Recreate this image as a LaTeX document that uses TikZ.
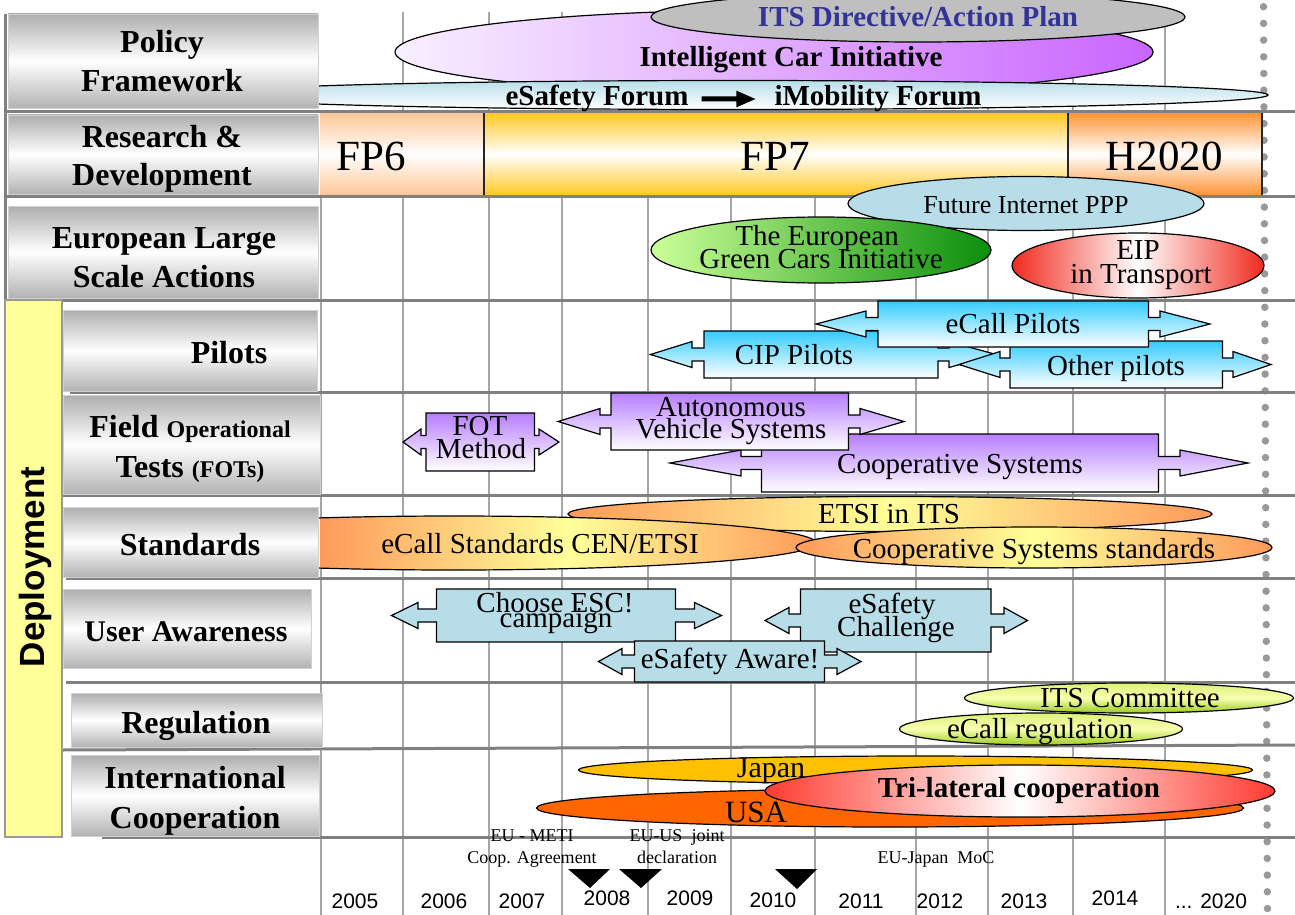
\documentclass[tikz,border=0pt]{standalone}
\usepackage{fontspec}
\setmainfont{Liberation Serif}
\newfontfamily\arialfam{Liberation Sans}
\usetikzlibrary{arrows.meta}
\newcommand{\tsize}[2]{\fontsize{#1}{#2}\selectfont}

\definecolor{paleteal}{HTML}{B7DEE8}
\definecolor{itsgray}{HTML}{BFBFBF}
\definecolor{itsblue}{HTML}{333399}
\definecolor{icilight}{HTML}{F8F0FF}
\definecolor{icipurple}{HTML}{C966FF}
\definecolor{fppeach}{HTML}{FFC797}
\definecolor{fpyellow}{HTML}{FFC926}
\definecolor{fporange}{HTML}{FF963A}
\definecolor{greenlight}{HTML}{CCFF99}
\definecolor{greendark}{HTML}{0A8F0A}
\definecolor{eipred}{HTML}{F02A1E}
\definecolor{pilotblue}{HTML}{33CCFF}
\definecolor{fotpurple}{HTML}{B77EFF}
\definecolor{stdorange}{HTML}{FF9A5A}
\definecolor{stdyellow}{HTML}{FFFF99}
\definecolor{regtop}{HTML}{DCF075}
\definecolor{regmid}{HTML}{F8FFB0}
\definecolor{regbot}{HTML}{9CCB1E}
\definecolor{japanorange}{HTML}{FFC000}
\definecolor{usaorange}{HTML}{FF6600}
\definecolor{trired}{HTML}{FF3B30}
\definecolor{deployyellow}{HTML}{FFFF99}

\tikzset{
  gridline/.style={draw=black!35, line width=1.3pt},
  rowline/.style={draw=black!50, line width=3pt},
  dotline/.style={draw=black!40, line width=7.5pt, line cap=round, dash pattern=on 0pt off 16.7pt},
  labelbox/.style={draw=black!18, line width=0.8pt, top color=black!32, bottom color=black!30, middle color=white},
  rim/.style={draw=black, line width=1.2pt},
  lbl/.style={font=\bfseries\tsize{32}{32}, anchor=base, inner sep=0pt},
  txt/.style={font=\tsize{29}{29}, anchor=base, inner sep=0pt},
  boldtxt/.style={font=\bfseries\tsize{29}{29}, anchor=base, inner sep=0pt},
  year/.style={font=\arialfam\tsize{21}{21}, anchor=base, inner sep=0pt},
  note/.style={font=\tsize{18}{18}, anchor=base, inner sep=0pt},
  fwd/.style={line width=5pt, -{Triangle[length=20pt,width=15pt]}, shorten <=13pt, shorten >=18pt},
  pilotfill/.style={rim, top color=pilotblue, bottom color=white},
  fotfill/.style={rim, top color=fotpurple, bottom color=white},
  awarefill/.style={rim, fill=paleteal},
  stdshade/.style={left color=stdorange, right color=stdorange, middle color=stdyellow},
  stdfill/.style={rim, stdshade},
  regfill/.style={rim, top color=regtop, bottom color=regbot, middle color=regmid}
}

% double arrow box: style, left tip, left neck, body left, body right, right neck, right tip, top, bottom
\def\shafthw{6.5}
\def\headhw{13}
\newcommand{\lrarrowbox}[9]{%
  \pgfmathsetmacro{\cmid}{(#8+#9)/2}%
  \path[#1] (#4,#8) -- (#5,#8) -- (#5,\cmid-\shafthw) -- (#6,\cmid-\shafthw) -- (#6,\cmid-\headhw)
    -- (#7,\cmid) -- (#6,\cmid+\headhw) -- (#6,\cmid+\shafthw) -- (#5,\cmid+\shafthw) -- (#5,#9)
    -- (#4,#9) -- (#4,\cmid+\shafthw) -- (#3,\cmid+\shafthw) -- (#3,\cmid+\headhw) -- (#2,\cmid)
    -- (#3,\cmid-\headhw) -- (#3,\cmid-\shafthw) -- (#4,\cmid-\shafthw) -- cycle;}

\begin{document}
\begin{tikzpicture}[x=1pt,y=-1pt]
	\useasboundingbox (0,0) rectangle (1295,915);
	%%%%% GRID %%%%%
	\foreach \gx in {403,489,562,648,731,815,916,988,1073,1165}
		\draw[gridline] (\gx,12) -- (\gx,915);
	\draw[gridline] (321,112) -- (321,915);
	\draw[dotline] (1263.5,6.7) -- (1267.5,915);
	
	\draw[rowline] (5,14) -- (5,300);
	\draw[rowline] (5,112) -- (1295,112);
	\draw[rowline] (5,196) -- (1295,196);
	\draw[rowline] (5,300) -- (1295,300);
	\draw[rowline] (70,392.5) -- (1295,392.5);
	\draw[rowline] (63,495.5) -- (1295,495.5);
	\draw[rowline] (66,578.5) -- (1295,578.5);
	\draw[rowline] (66,682.5) -- (1295,682.5);
	\draw[rowline] (62,750) -- (1295,745);
	\draw[rowline] (102,837) -- (1295,837);
	
	%%%%% POLICY FRAMEWORK %%%%%
	\path[rim, left color=icilight, right color=icipurple] (774,52) ellipse [x radius=379, y radius=42];
	\path[rim, fill=itsgray] (918,17) ellipse [x radius=267, y radius=25];
	\path[rim, top color=paleteal, bottom color=white] (735,95) ellipse [x radius=533, y radius=14.5];
	
	%%%%% RESEARCH %%%%%
	\path[top color=fppeach, bottom color=fppeach, middle color=white] (320,113.5) rectangle (484,194.5);
	\path[top color=fpyellow, bottom color=fpyellow, middle color=white] (484,113.5) rectangle (1068,194.5);
	\path[top color=fporange, bottom color=fporange, middle color=white] (1068,113.5) rectangle (1262,194.5);
	\draw[black!85, line width=1.5pt] (484,113.5) -- (484,194.5);
	\draw[black!85, line width=1.2pt] (1068,113.5) -- (1068,194.5);
	\draw[black!85, line width=1.5pt] (1262,113.5) -- (1262,194.5);
	
	%%%%% LARGE SCALE ACTIONS %%%%%
	\path[rim, fill=paleteal] (1026,203.5) ellipse [x radius=178, y radius=27];
	\path[rim, left color=greenlight, right color=greendark] (821,250) ellipse [x radius=170, y radius=33];
	\path[rim, left color=eipred, right color=eipred, middle color=white] (1138,265.5) ellipse [x radius=126, y radius=32.5];
	
	%%%%% PILOTS %%%%%
	\lrarrowbox{pilotfill}{650.5}{692}{704}{938}{949}{996}{331}{378}
	\lrarrowbox{pilotfill}{959}{1000}{1010}{1222.5}{1233}{1271}{341}{388}
	\lrarrowbox{pilotfill}{816}{866}{878}{1148.5}{1160}{1210}{301}{347}
	
	%%%%% FOTs %%%%%
	\lrarrowbox{fotfill}{670}{741}{761.5}{1158.5}{1180}{1248}{434}{492}
	\lrarrowbox{fotfill}{558}{600}{611}{848.5}{860}{904}{393}{450}
	\lrarrowbox{fotfill}{403}{421}{426}{534.5}{539}{559}{413}{471}
	
	%%%%% STANDARDS %%%%%
	\path[stdfill] (890,514) ellipse [x radius=322, y radius=17.5];
	\begin{scope}
		\clip (454,543) ellipse [x radius=362, y radius=27];
		\path[stdshade] (320,515) rectangle (817,571);
	\end{scope}
	\draw[rim] (454,543) ellipse [x radius=362, y radius=27];
	\path[stdfill] (1034,547.5) ellipse [x radius=238, y radius=20.5];
	
	%%%%% USER AWARENESS %%%%%
	\lrarrowbox{awarefill}{391.5}{418}{436.5}{675.5}{694.5}{721.5}{589}{642}
	\lrarrowbox{awarefill}{765}{789}{800.5}{991}{1004}{1027.5}{589}{652}
	\lrarrowbox{awarefill}{598.5}{622}{634.5}{824.5}{837}{861}{641}{682}
	
	%%%%% REGULATION %%%%%
	\path[regfill] (1129,698) ellipse [x radius=164.5, y radius=15];
	\path[regfill] (1041,729) ellipse [x radius=141.5, y radius=16];
	
	%%%%% INTERNATIONAL %%%%%
	\path[rim, fill=japanorange] (915.5,770) ellipse [x radius=337, y radius=14];
	\path[rim, fill=usaorange] (890,808) ellipse [x radius=353.5, y radius=19];
	\path[rim, left color=trired, right color=trired, middle color=white] (1020,791) ellipse [x radius=255, y radius=26];
	
	\fill (568,869) -- (610,869) -- (590,888) -- cycle;
	\fill (619,869) -- (662,869) -- (641,888) -- cycle;
	\fill (775,869) -- (817,869) -- (797,889) -- cycle;
	
	%%%%% ROW LABELS %%%%%
	\path[labelbox] (8,14) rectangle (318,108);
	\path[labelbox] (8,115) rectangle (318,194);
	\path[labelbox] (8,206) rectangle (318,298);
	\path[labelbox] (63,310) rectangle (317,391);
	\path[labelbox] (63,395) rectangle (320,494);
	\path[labelbox] (63,507) rectangle (318,577);
	\path[labelbox] (63,589) rectangle (311,668);
	\path[labelbox] (71,693) rectangle (322,747);
	\path[labelbox] (71,755) rectangle (319,836);
	\draw[draw=black!40, line width=1.5pt, fill=deployyellow] (5,300) rectangle (62,837);
	
	\node[lbl] (lpol1) at (162,53) {Policy};
	\node[lbl] (lpol2) at (162,92) {Framework};
	\node[lbl] (lrd1) at (162,147) {Research \&};
	\node[lbl] (lrd2) at (162,185) {Development};
	\node[lbl] (leu1) at (164,248) {European Large};
	\node[lbl] (leu2) at (164,287) {Scale Actions};
	\node[lbl] (lpil) at (229,363) {Pilots};
	\node[lbl] (lfot1) at (190,437) {Field {\tsize{24}{24}Operational}};
	\node[lbl] (lfot2) at (190,477) {Tests {\tsize{24}{24}(FOTs)}};
	\node[lbl] (lstd) at (190,555) {Standards};
	\node[lbl, font=\bfseries\tsize{30}{30}] (lua) at (186,641) {User Awareness};
	\node[lbl] (lreg) at (196,733) {Regulation};
	\node[lbl] (lint1) at (195,788) {International};
	\node[lbl] (lint2) at (195,828) {Cooperation};
	\node[rotate=90, font=\arialfam\bfseries\tsize{35}{35}, inner sep=0pt] (ldep) at (35,567) {Deployment};
	
	%%%%% TEXTS %%%%%
	\node[boldtxt, text=itsblue] (its) at (918,27) {ITS Directive/Action Plan};
	\node[boldtxt] (ici) at (791,67) {Intelligent Car Initiative};
	\node[boldtxt] (esafe) at (597,106) {eSafety Forum};
	\node[boldtxt] (imob) at (878,106) {iMobility Forum};
	\draw[fwd] (esafe) -- (imob);
	
	\node[txt, font=\tsize{43}{43}] (fp6) at (371,170) {FP6};
	\node[txt, font=\tsize{43}{43}] (fp7) at (775,170) {FP7};
	\node[txt, font=\tsize{43}{43}] (h2020) at (1164,170) {H2020};
	
	\node[txt, font=\tsize{26}{26}] (fippp) at (1026,213) {Future Internet PPP};
	\node[txt] (gc1) at (817,245) {The European};
	\node[txt] (gc2) at (821,268) {Green Cars Initiative};
	\node[txt] (eip1) at (1138,259) {EIP};
	\node[txt] (eip2) at (1141,283) {in Transport};
	
	\node[txt] (ecallp) at (1013,333) {eCall Pilots};
	\node[txt] (cipp) at (794,364) {CIP Pilots};
	\node[txt] (otherp) at (1116,375) {Other pilots};
	
	\node[txt] (fot1) at (480,435) {FOT};
	\node[txt] (fot2) at (481,458) {Method};
	\node[txt] (auto1) at (731,416) {Autonomous};
	\node[txt] (auto2) at (731,438) {Vehicle Systems};
	\node[txt] (coop) at (960,473) {Cooperative Systems};
	
	\node[txt] (etsi) at (889,523) {ETSI in ITS};
	\node[txt] (ecalls) at (540,553) {eCall Standards CEN/ETSI};
	\node[txt] (coops) at (1034,558) {Cooperative Systems standards};
	
	\node[txt] (esc1) at (555,612) {Choose ESC!};
	\node[txt] (esc2) at (556,627) {campaign};
	\node[txt] (chal1) at (892,613) {eSafety};
	\node[txt] (chal2) at (896,636) {Challenge};
	\node[txt] (aware) at (730,668) {eSafety Aware!};
	
	\node[txt] (itscom) at (1130,707) {ITS Committee};
	\node[txt] (ecallr) at (1040,738) {eCall regulation};
	
	\node[txt, font=\tsize{30}{30}] (japan) at (771,777) {Japan};
	\node[txt, font=\tsize{31}{31}] (usa) at (756,822) {USA};
	\node[boldtxt] (tri) at (1019,797) {Tri-lateral cooperation};
	
	\node[note] (meti1) at (532,841) {EU - METI};
	\node[note] (meti2) at (532,863) {Coop. Agreement};
	\node[note] (eus1) at (677,841) {EU-US\ \ joint};
	\node[note] (eus2) at (677,863) {declaration};
	\node[note] (ejap) at (936,863) {EU-Japan\ \ MoC};
	
	\foreach \yr/\xx/\yy in {2005/355/908, 2006/444/908, 2007/522/908, 2008/607/905, 2009/690/905,
	                          2010/773/907, 2011/861/908, 2012/940/908, 2013/1024/908, 2014/1115/905}
		\node[year] (y\yr) at (\xx,\yy) {\yr};
	\node[year] (y2020) at (1211,908) {... 2020};
\end{tikzpicture}
\end{document}
